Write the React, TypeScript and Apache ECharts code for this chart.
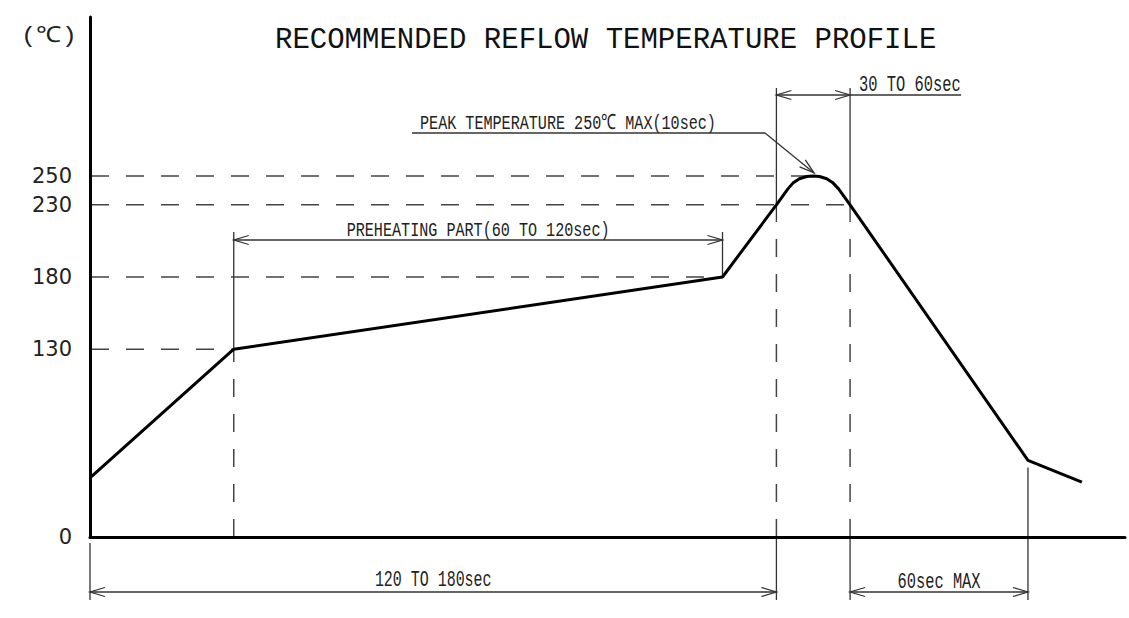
import React, { useEffect, useRef } from "react";
import * as echarts from "echarts";

// ---- data ----
const timeSec = [0, 40, 176, 191, 194.2, 195.6, 197.4, 199.4, 201.2, 203.0, 205.0, 206.8, 208.3, 211.5, 261, 276];
const tempC = [41, 130, 180, 230, 241.0, 245.0, 248.0, 249.6, 250, 249.6, 248.0, 245.0, 241.0, 230, 53, 38];
const yTickLabels = [0, 130, 180, 230, 250];

const titleText = "RECOMMENDED REFLOW TEMPERATURE PROFILE";
const unitText = "(℃)";
const preheatText = "PREHEATING PART(60 TO 120sec)";
const totalText = "120 TO 180sec";
const coolText = "60sec MAX";
const reflowText = "30 TO 60sec";
const peakText = "PEAK TEMPERATURE 250℃ MAX(10sec)";

// indices of key profile points
const I_PRE_START = 1;
const I_PRE_END = 2;
const I_REFLOW_START = 3;
const I_PEAK = 8;
const I_REFLOW_END = 13;
const I_COOL_END = 14;

const ANN_FONT = "'Liberation Mono', 'DejaVu Sans Mono', monospace";
const THIN = "#333";

export default function App() {
  const ref = useRef<HTMLDivElement>(null);

  useEffect(() => {
    if (!ref.current) return;
    const chart = echarts.init(ref.current, null, { renderer: "svg" });
    chart.setOption({
      animation: false,
      backgroundColor: "#fff",
      title: {
        text: titleText,
        left: 275,
        top: 26,
        padding: 0,
        textStyle: { fontFamily: ANN_FONT, fontSize: 29, fontWeight: "normal", color: "#111" },
      },
      grid: { left: 90, right: 4, top: 17, bottom: 81 },
      xAxis: {
        type: "value",
        min: 0,
        max: 288,
        axisLine: { show: true, lineStyle: { color: "#000", width: 3 } },
        axisTick: { show: false },
        axisLabel: { show: false },
        splitLine: { show: false },
      },
      yAxis: {
        type: "value",
        min: 0,
        max: 360,
        interval: 10,
        axisLine: { show: true, lineStyle: { color: "#000", width: 3 } },
        axisTick: { show: false },
        splitLine: { show: false },
        axisLabel: {
          margin: 18,
          fontFamily: "'DejaVu Sans', sans-serif",
          fontSize: 21,
          color: "#222",
          formatter: (v: number) => (yTickLabels.includes(v) ? String(v) : ""),
        },
      },
      series: [
        {
          type: "line",
          data: timeSec.map((t, i) => [t, tempC[i]]),
          symbol: "none",
          clip: false,
          lineStyle: { color: "#000", width: 3 },
        },
      ],
    });

    const P = (i: number) => chart.convertToPixel({ gridIndex: 0 }, [timeSec[i], tempC[i]]) as number[];
    const O = chart.convertToPixel({ gridIndex: 0 }, [0, 0]) as number[];
    const axisX = O[0];
    const axisY = O[1];

    const g: any[] = [];
    const line = (x1: number, y1: number, x2: number, y2: number, dashed = false) => {
      g.push({
        type: "line",
        silent: true,
        shape: { x1, y1, x2, y2 },
        style: dashed
          ? { stroke: "#444", lineWidth: 1.5, lineDash: [18, 17] }
          : { stroke: THIN, lineWidth: 1.3 },
      });
    };
    const arrow = (tx: number, ty: number, fx: number, fy: number) => {
      const dx = fx - tx;
      const dy = fy - ty;
      const len = Math.sqrt(dx * dx + dy * dy) || 1;
      const ux = dx / len;
      const uy = dy / len;
      const L = 15;
      const W = 4.5;
      g.push({
        type: "polyline",
        silent: true,
        shape: {
          points: [
            [tx + ux * L - uy * W, ty + uy * L + ux * W],
            [tx, ty],
            [tx + ux * L + uy * W, ty + uy * L - ux * W],
          ],
        },
        style: { stroke: THIN, lineWidth: 1.3, fill: "none" },
      });
    };
    const dim = (x1: number, x2: number, y: number) => {
      line(x1, y, x2, y);
      arrow(x1, y, x2, y);
      arrow(x2, y, x1, y);
    };
    const text = (t: string, x: number, y: number, align: string, scaleX = 0.73, size = 21) => {
      g.push({
        type: "text",
        silent: true,
        x,
        y,
        scaleX,
        style: {
          text: t,
          fontFamily: ANN_FONT,
          fontSize: size,
          fill: "#222",
          align,
          verticalAlign: "middle",
        },
      });
    };

    // horizontal dashed level lines
    [I_PEAK, I_REFLOW_END, I_PRE_END, I_PRE_START].forEach((i) => {
      const p = P(i);
      line(axisX + 1, p[1], p[0] - (i === I_PEAK ? 5 : 0), p[1], true);
    });

    const pS = P(I_PRE_START);
    const pE = P(I_PRE_END);
    const pR1 = P(I_REFLOW_START);
    const pR2 = P(I_REFLOW_END);
    const pC = P(I_COOL_END);
    const pPk = P(I_PEAK);

    const yPre = 240;
    const yTop = 95;
    const yBottom = 592;

    // vertical extension / dashed lines
    line(pS[0], yPre - 8, pS[0], pS[1]);
    line(pS[0], axisY, pS[0], pS[1], true);
    line(pE[0], yPre - 8, pE[0], pE[1]);
    [pR1, pR2].forEach((p) => {
      line(p[0], yTop - 7, p[0], p[1] + 16);
      line(p[0], axisY, p[0], p[1] + 16, true);
      line(p[0], axisY, p[0], yBottom + 8);
    });
    line(pC[0], pC[1] + 7, pC[0], yBottom + 8);
    line(axisX, axisY + 6, axisX, yBottom + 8);

    // dimension lines
    dim(axisX, pR1[0], yBottom);
    text(totalText, (axisX + pR1[0]) / 2, yBottom - 12, "center", 0.68, 22);
    dim(pR2[0], pC[0], yBottom);
    text(coolText, (pR2[0] + pC[0]) / 2, yBottom - 10, "center", 0.7, 22);
    dim(pS[0], pE[0], yPre);
    text(preheatText, (pS[0] + pE[0]) / 2, yPre - 10, "center", 0.72, 21);
    dim(pR1[0], pR2[0], yTop);
    line(pR2[0], yTop, pR2[0] + 111, yTop);
    text(reflowText, pR2[0] + 9, yTop - 10, "left", 0.7, 22);

    // peak leader
    const leadX0 = 412;
    const leadX1 = 765;
    const leadY = 133;
    line(leadX0, leadY, leadX1, leadY);
    const tipX = pPk[0] + 1;
    const tipY = pPk[1] - 3;
    line(leadX1, leadY, tipX, tipY);
    arrow(tipX, tipY, leadX1, leadY);
    text(peakText, 420, leadY - 10, "left", 0.72, 21);

    // unit label
    text(unitText, 49, 36, "center", 1.15, 22);

    chart.setOption({ graphic: g });

    return () => {
      chart.dispose();
    };
  }, []);

  return (
    <div
      ref={ref}
      style={{ position: "absolute", left: 0, top: 0, width: 1129, height: 618, background: "#fff" }}
    />
  );
}
